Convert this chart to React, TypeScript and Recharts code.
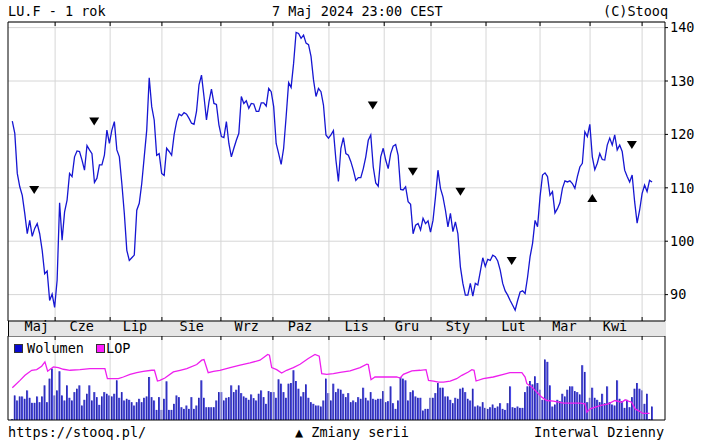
import { ComposedChart, Line, Bar, Scatter, XAxis, YAxis, CartesianGrid, ReferenceLine } from 'recharts';

const FONT = '"DejaVu Sans Mono", monospace';
const PRICE_COLOR = '#1616d2';
const VOLUME_COLOR = '#4848e6';
const LOP_COLOR = '#ee1fee';
const GRID_COLOR = '#d6d6d6';

// x is the trading-day index, 0 = first session shown
const X_DOMAIN: [number, number] = [-1.73, 262.2];
const PRICE_DOMAIN: [number, number] = [85.06, 141.05];
const VOLUME_DOMAIN: [number, number] = [0, 2500];

const MONTH_LABELS = ['Maj', 'Cze', 'Lip', 'Sie', 'Wrz', 'Paz', 'Lis', 'Gru', 'Sty', 'Lut', 'Mar', 'Kwi'];
const MONTH_LABEL_DAYS = [9.8, 27.9, 49.3, 72.1, 94.2, 115.6, 138.3, 158.5, 179.0, 201.3, 221.8, 242.1];
const MONTH_STARTS = [17.2, 39.3, 60.1, 83.8, 104.7, 127.2, 149.4, 168.2, 190.3, 212.0, 232.1, 253.0];
const PRICE_TICKS = [90, 100, 110, 120, 130, 140];

const PRICES = [
  122.5, 120.2, 112.7, 110.2, 108.6, 105.2, 101.4, 103.9, 100.9, 102.4,
  103.3, 101.4, 98.3, 93.9, 94.4, 88.9, 90.1, 87.6, 92.7, 107.2,
  100.2, 105.5, 107.7, 112.7, 112.1, 115.8, 116.9, 116.8, 115.2, 113.3,
  117.9, 117.1, 116.4, 111.0, 111.8, 114.3, 114.3, 116.1, 120.8, 118.3,
  120.8, 122.4, 117.1, 115.8, 110.8, 105.2, 98.3, 96.4, 96.9, 97.4,
  105.8, 107.1, 110.8, 115.8, 120.8, 130.6, 125.2, 122.7, 116.1, 116.4,
  112.7, 112.3, 117.4, 116.8, 116.1, 119.9, 122.4, 123.8, 123.5, 124.1,
  123.8, 123.0, 122.1, 121.9, 124.3, 129.3, 131.1, 127.1, 122.7, 126.1,
  128.5, 125.8, 125.6, 121.8, 119.6, 119.4, 122.4, 118.3, 115.8, 117.4,
  118.9, 120.2,
  127.1, 125.8, 126.3, 124.9, 125.8, 125.7, 124.3, 124.3, 125.9, 125.9,
  125.3, 128.6, 128.0, 125.2, 118.3, 116.4, 114.4, 117.4, 123.3, 129.7,
  128.8, 133.3, 139.1, 138.9, 138.0, 138.6, 137.1, 136.8, 134.6, 130.2,
  127.1, 128.6, 128.0, 125.5, 119.9, 119.3, 119.9, 120.7, 115.2, 111.2,
  117.4, 119.4, 116.4, 116.1, 114.9, 113.3, 111.4, 111.9, 111.9, 113.6,
  115.8, 118.9, 119.9, 113.9, 110.9, 110.3, 115.8, 117.4, 115.2, 113.6,
  116.4, 117.8, 118.1, 116.1, 109.7, 109.6, 110.2, 107.4, 106.9, 101.4,
  103.0, 103.3, 102.1, 104.3, 103.3, 103.8, 101.7, 103.9, 108.3, 113.3,
  109.9, 108.3, 105.8, 102.7, 105.2, 101.8, 103.6, 101.4, 95.2, 92.1,
  89.9, 89.9,
  92.1, 89.7, 92.1, 91.8, 94.3, 96.9, 95.3, 96.6, 96.4, 97.4,
  97.1, 96.3, 94.6, 92.1, 90.7, 89.9, 88.9, 88.0, 87.1, 88.9,
  90.5, 90.7, 90.2, 93.3, 97.1, 99.6, 103.9, 102.7, 108.3, 112.4,
  112.8, 112.1, 108.6, 109.3, 105.3, 106.1, 107.2, 109.9, 111.3, 111.1,
  111.3, 110.8, 109.9, 112.1, 113.9, 114.6, 120.5, 119.6, 121.9, 115.8,
  113.4, 114.6, 116.4, 115.3, 115.2, 118.0, 119.3, 118.0, 119.9, 117.1,
  118.0, 116.8, 113.3, 112.1, 111.1, 112.4, 107.4, 103.4, 105.8, 108.9,
  110.5, 109.3, 111.4, 111.1,
];

const VOLUMES = [
  30, 730, 580, 700, 700, 630, 880, 660, 510, 510,
  700, 530, 700, 1030, 530, 1230, 1530, 730, 880, 1450,
  730, 580, 1030, 660, 580, 830, 930, 1030, 430, 600,
  780, 1030, 580, 830, 680, 450, 700, 830, 780, 730,
  700, 780, 1180, 660, 830, 580, 630, 600, 530, 430,
  530, 630, 530, 660, 700, 1280, 680, 580, 300, 680,
  300, 630, 1150, 300, 300, 480, 730, 680, 380, 330,
  430, 330, 680, 330, 430, 660, 1180, 660, 380, 380,
  380, 380, 580, 830, 830, 580, 660, 680, 1030, 830,
  900, 1030, 800, 700, 660, 600, 760, 650, 580, 780,
  880, 680, 480, 860, 830, 830, 660, 1210, 1080, 830,
  660, 1080, 1100, 1480, 1160, 930, 700, 830, 1060, 660,
  530, 480, 430, 430, 400, 580, 1230, 800, 580, 1080,
  830, 930, 900, 780, 680, 800,
  530, 580, 530, 680, 630, 960, 660, 580, 830, 630,
  600, 630, 630, 860, 530, 560, 1000, 500, 330, 580,
  1280, 1230, 1180, 580, 830, 880, 700, 660, 660, 280,
  330, 330, 660, 660, 800, 1100, 960, 960, 700, 700,
  600, 500, 660, 630, 930, 960, 830, 630, 580, 930,
  400, 430, 400, 530, 360, 330, 380, 460, 360, 400,
  500, 330, 300, 500, 1000, 380, 360, 400, 360, 360,
  830, 1000, 1160, 1060, 1300, 1100, 900, 600, 1800, 1730,
  1030, 400, 460, 600, 560, 780, 700, 900, 1000, 1000,
  860, 830, 760, 1630, 1430, 530, 660, 960, 660, 600,
  530, 780, 500, 1000, 530, 460, 430, 1180, 630, 560,
  360, 600, 380, 680, 930, 1100, 930, 880, 480, 780,
  30, 400,
];

const LOP_DAYS = [
  0, 3.1, 5.1, 7.8, 9.8, 11.8, 13.1, 14.2, 15.1, 16.5, 18.5, 20.5, 23.2, 27.2, 31.2, 37.2,
  38.2, 39.9, 42.6, 44.6, 47.3, 50.0, 52.6, 56.0, 57.1, 58.3, 59.3, 61.3, 64.7, 67.4, 70.1,
  74.1, 76.1, 77.0, 78.7, 80.8, 83.4, 87.5, 91.5, 95.5, 99.5, 102.6, 103.3, 104.2, 106.2,
  108.2, 110.2, 112.9, 115.6, 118.9, 121.6, 123.3, 124.3, 126.3, 129.0, 131.7, 135.7, 139.7,
  142.4, 143.0, 144.1, 145.7, 149.1, 154.4, 155.8, 157.1, 160.5, 163.8, 166.2, 167.2, 169.2,
  171.2, 173.2, 175.9, 178.5, 180.6, 183.2, 184.6, 185.5, 186.3, 189.2, 193.2, 197.3, 199.9,
  202.6, 204.7, 206.0, 206.7, 208.7, 210.7, 212.7, 214.7, 217.4, 221.4, 228.1, 230.1, 230.8,
  232.1, 236.1, 239.4, 242.1, 244.8, 246.2, 247.5, 248.8, 250.2, 251.5, 253.3, 256.0,
];
const LOP_VALUES = [
  960, 1180, 1330, 1480, 1500, 1600, 1730, 1450, 1500, 1580, 1560, 1510, 1480, 1500, 1530, 1530,
  1230, 1230, 1230, 1280, 1360, 1410, 1450, 1480, 1480, 1160, 1180, 1250, 1430, 1480, 1530,
  1650, 1780, 1800, 1410, 1450, 1480, 1560, 1630, 1700, 1780, 1950, 1930, 1560, 1500,
  1400, 1480, 1560, 1660, 1830, 1950, 1900, 1380, 1360, 1380, 1420, 1460, 1560,
  1660, 1650, 1200, 1280, 1280, 1280, 1250, 1360, 1460, 1480, 1500, 1180, 1160,
  1130, 1130, 1160, 1230, 1330, 1430, 1500, 1480, 1160, 1230, 1280, 1360, 1410,
  1410, 1410, 1280, 1080, 980, 830, 680, 580, 560, 500, 500, 480, 230,
  330, 430, 480, 580, 530, 600, 560, 530, 330, 280, 200, 200,
];

// contract roll markers ("Zmiany serii")
const ROLL_DAYS = [8.8, 32.9, 144.8, 160.9, 180.0, 200.6, 233.0, 248.9];
const ROLL_PRICES = [109.6, 122.4, 125.4, 113.0, 109.25, 96.3, 108.1, 118.0];
const ROLL_UP = [false, false, false, false, false, false, true, false];

const priceData = PRICES.map((p, i) => ({ d: i, p }));
const volumeData = VOLUMES.map((v, i) => ({ d: i, v }));
const lopData = LOP_DAYS.map((d, i) => ({ d, l: LOP_VALUES[i] }));
const rollData = ROLL_DAYS.map((d, i) => ({ d, p: ROLL_PRICES[i], up: ROLL_UP[i] }));

function RollMarker(props: any) {
  const { cx, cy, payload } = props;
  const pts = payload.up
    ? `${cx - 5},${cy + 4} ${cx + 5},${cy + 4} ${cx},${cy - 4}`
    : `${cx - 5},${cy - 4} ${cx + 5},${cy - 4} ${cx},${cy + 4}`;
  return <polygon points={pts} fill="#000" />;
}

// stooq-style thin bar: dark edge + lighter body, centred on the session
function VolumeBar(props: any) {
  const { x, y, width, height } = props;
  if (!height || height <= 0) return null;
  const cx = x + width / 2;
  return (
    <g>
      <rect x={cx - 0.9} y={y} width={1.8} height={height} fill={VOLUME_COLOR} />
      <rect x={cx - 0.9} y={y} width={0.7} height={height} fill="#1a1a8a" />
    </g>
  );
}

const tickLen = (domain: [number, number], plotPx: number, px: number) => (domain[1] - domain[0]) * px / plotPx;

function PriceChart() {
  const t = tickLen(PRICE_DOMAIN, 299, 4);
  return (
    <ComposedChart width={703} height={336} data={priceData} margin={{ top: 22, right: 0, bottom: 0, left: 8 }}>
      <CartesianGrid vertical={false} stroke={GRID_COLOR} />
      {MONTH_STARTS.map(d => <ReferenceLine key={`g${d}`} x={d} stroke={GRID_COLOR} />)}
      <XAxis
        dataKey="d"
        type="number"
        domain={X_DOMAIN}
        allowDataOverflow
        ticks={MONTH_LABEL_DAYS}
        interval={0}
        tickFormatter={(v: number) => MONTH_LABELS[MONTH_LABEL_DAYS.indexOf(v)] ?? ''}
        height={15}
        tickLine={false}
        tickSize={0}
        tickMargin={0}
        axisLine={{ stroke: '#000' }}
        tick={{ fill: '#000', fontSize: 13.5, fontFamily: FONT }}
      />
      <YAxis
        orientation="right"
        domain={PRICE_DOMAIN}
        allowDataOverflow
        ticks={PRICE_TICKS}
        width={38}
        tickSize={3}
        tickMargin={2}
        tickLine={{ stroke: '#000' }}
        axisLine={{ stroke: '#000' }}
        tick={{ fill: '#000', fontSize: 13.5, fontFamily: FONT }}
      />
      <ReferenceLine x={X_DOMAIN[0]} stroke="#000" />
      <ReferenceLine y={PRICE_DOMAIN[1]} stroke="#000" />
      {MONTH_STARTS.map(d => (
        <ReferenceLine key={`t${d}`} stroke="#000" segment={[{ x: d, y: PRICE_DOMAIN[1] }, { x: d, y: PRICE_DOMAIN[1] - t }]} />
      ))}
      {MONTH_STARTS.map(d => (
        <ReferenceLine key={`b${d}`} stroke="#000" segment={[{ x: d, y: PRICE_DOMAIN[0] }, { x: d, y: PRICE_DOMAIN[0] + t }]} />
      ))}
      <Line type="linear" dataKey="p" stroke={PRICE_COLOR} strokeWidth={1.3} dot={false} isAnimationActive={false} />
      <Scatter data={rollData} dataKey="p" shape={RollMarker} isAnimationActive={false} />
    </ComposedChart>
  );
}

function VolumeChart() {
  const t = tickLen(VOLUME_DOMAIN, 84, 4);
  return (
    <ComposedChart width={703} height={85} data={volumeData} margin={{ top: 0, right: 38, bottom: 1, left: 8 }}>
      {MONTH_STARTS.map(d => <ReferenceLine key={`g${d}`} x={d} stroke={GRID_COLOR} />)}
      <XAxis dataKey="d" type="number" domain={X_DOMAIN} allowDataOverflow hide />
      <YAxis domain={VOLUME_DOMAIN} allowDataOverflow hide />
      <YAxis yAxisId="lop" domain={VOLUME_DOMAIN} allowDataOverflow hide />
      <Bar dataKey="v" shape={VolumeBar} isAnimationActive={false} />
      <Line yAxisId="lop" data={lopData} dataKey="l" type="linear" stroke={LOP_COLOR} strokeWidth={1.3} dot={false} isAnimationActive={false} />
      <ReferenceLine x={X_DOMAIN[0]} stroke="#000" />
      <ReferenceLine x={X_DOMAIN[1]} stroke="#000" />
      <ReferenceLine y={VOLUME_DOMAIN[0]} stroke="#000" />
      <ReferenceLine y={VOLUME_DOMAIN[1]} stroke="#000" />
      {MONTH_STARTS.map(d => (
        <ReferenceLine key={`t${d}`} stroke="#000" segment={[{ x: d, y: VOLUME_DOMAIN[1] }, { x: d, y: VOLUME_DOMAIN[1] - t }]} />
      ))}
    </ComposedChart>
  );
}

const textStyle: React.CSSProperties = { position: 'absolute', fontFamily: FONT, fontSize: 13.5, color: '#000', whiteSpace: 'pre', lineHeight: '16px' };
const swatch = (color: string, left: number): React.CSSProperties => ({
  position: 'absolute', left, top: 344, width: 7, height: 7, background: color, border: '1px solid #333',
});

export default function App() {
  return (
    <div style={{ position: 'absolute', left: 0, top: 0, width: 703, height: 442, background: '#fff', overflow: 'hidden' }}>
      <div style={{ ...textStyle, left: 8, top: 3 }}>LU.F - 1 rok</div>
      <div style={{ ...textStyle, left: 272, top: 3 }}>7 Maj 2024 23:00 CEST</div>
      <div style={{ ...textStyle, left: 603, top: 3 }}>(C)Stooq</div>

      <div style={{ position: 'absolute', left: 8, top: 321, width: 658, height: 15, background: '#e6e6e6' }} />
      <div style={{ position: 'absolute', left: 0, top: 0 }}>
        <PriceChart />
      </div>
      <div style={{ position: 'absolute', left: 0, top: 336 }}>
        <VolumeChart />
      </div>
      <div style={{ position: 'absolute', left: 8, top: 321, width: 0, height: 15, borderLeft: '1px solid #000' }} />

      <div style={swatch('#0a0ad0', 14)} />
      <div style={{ ...textStyle, left: 27, top: 340 }}>Wolumen</div>
      <div style={swatch('#ff1cff', 96)} />
      <div style={{ ...textStyle, left: 106, top: 340 }}>LOP</div>

      <div style={{ ...textStyle, left: 8, top: 424 }}>https://stooq.pl/</div>
      <div style={{ ...textStyle, left: 295, top: 424 }}>▲ Zmiany serii</div>
      <div style={{ ...textStyle, left: 534, top: 424 }}>Interwal Dzienny</div>
    </div>
  );
}
